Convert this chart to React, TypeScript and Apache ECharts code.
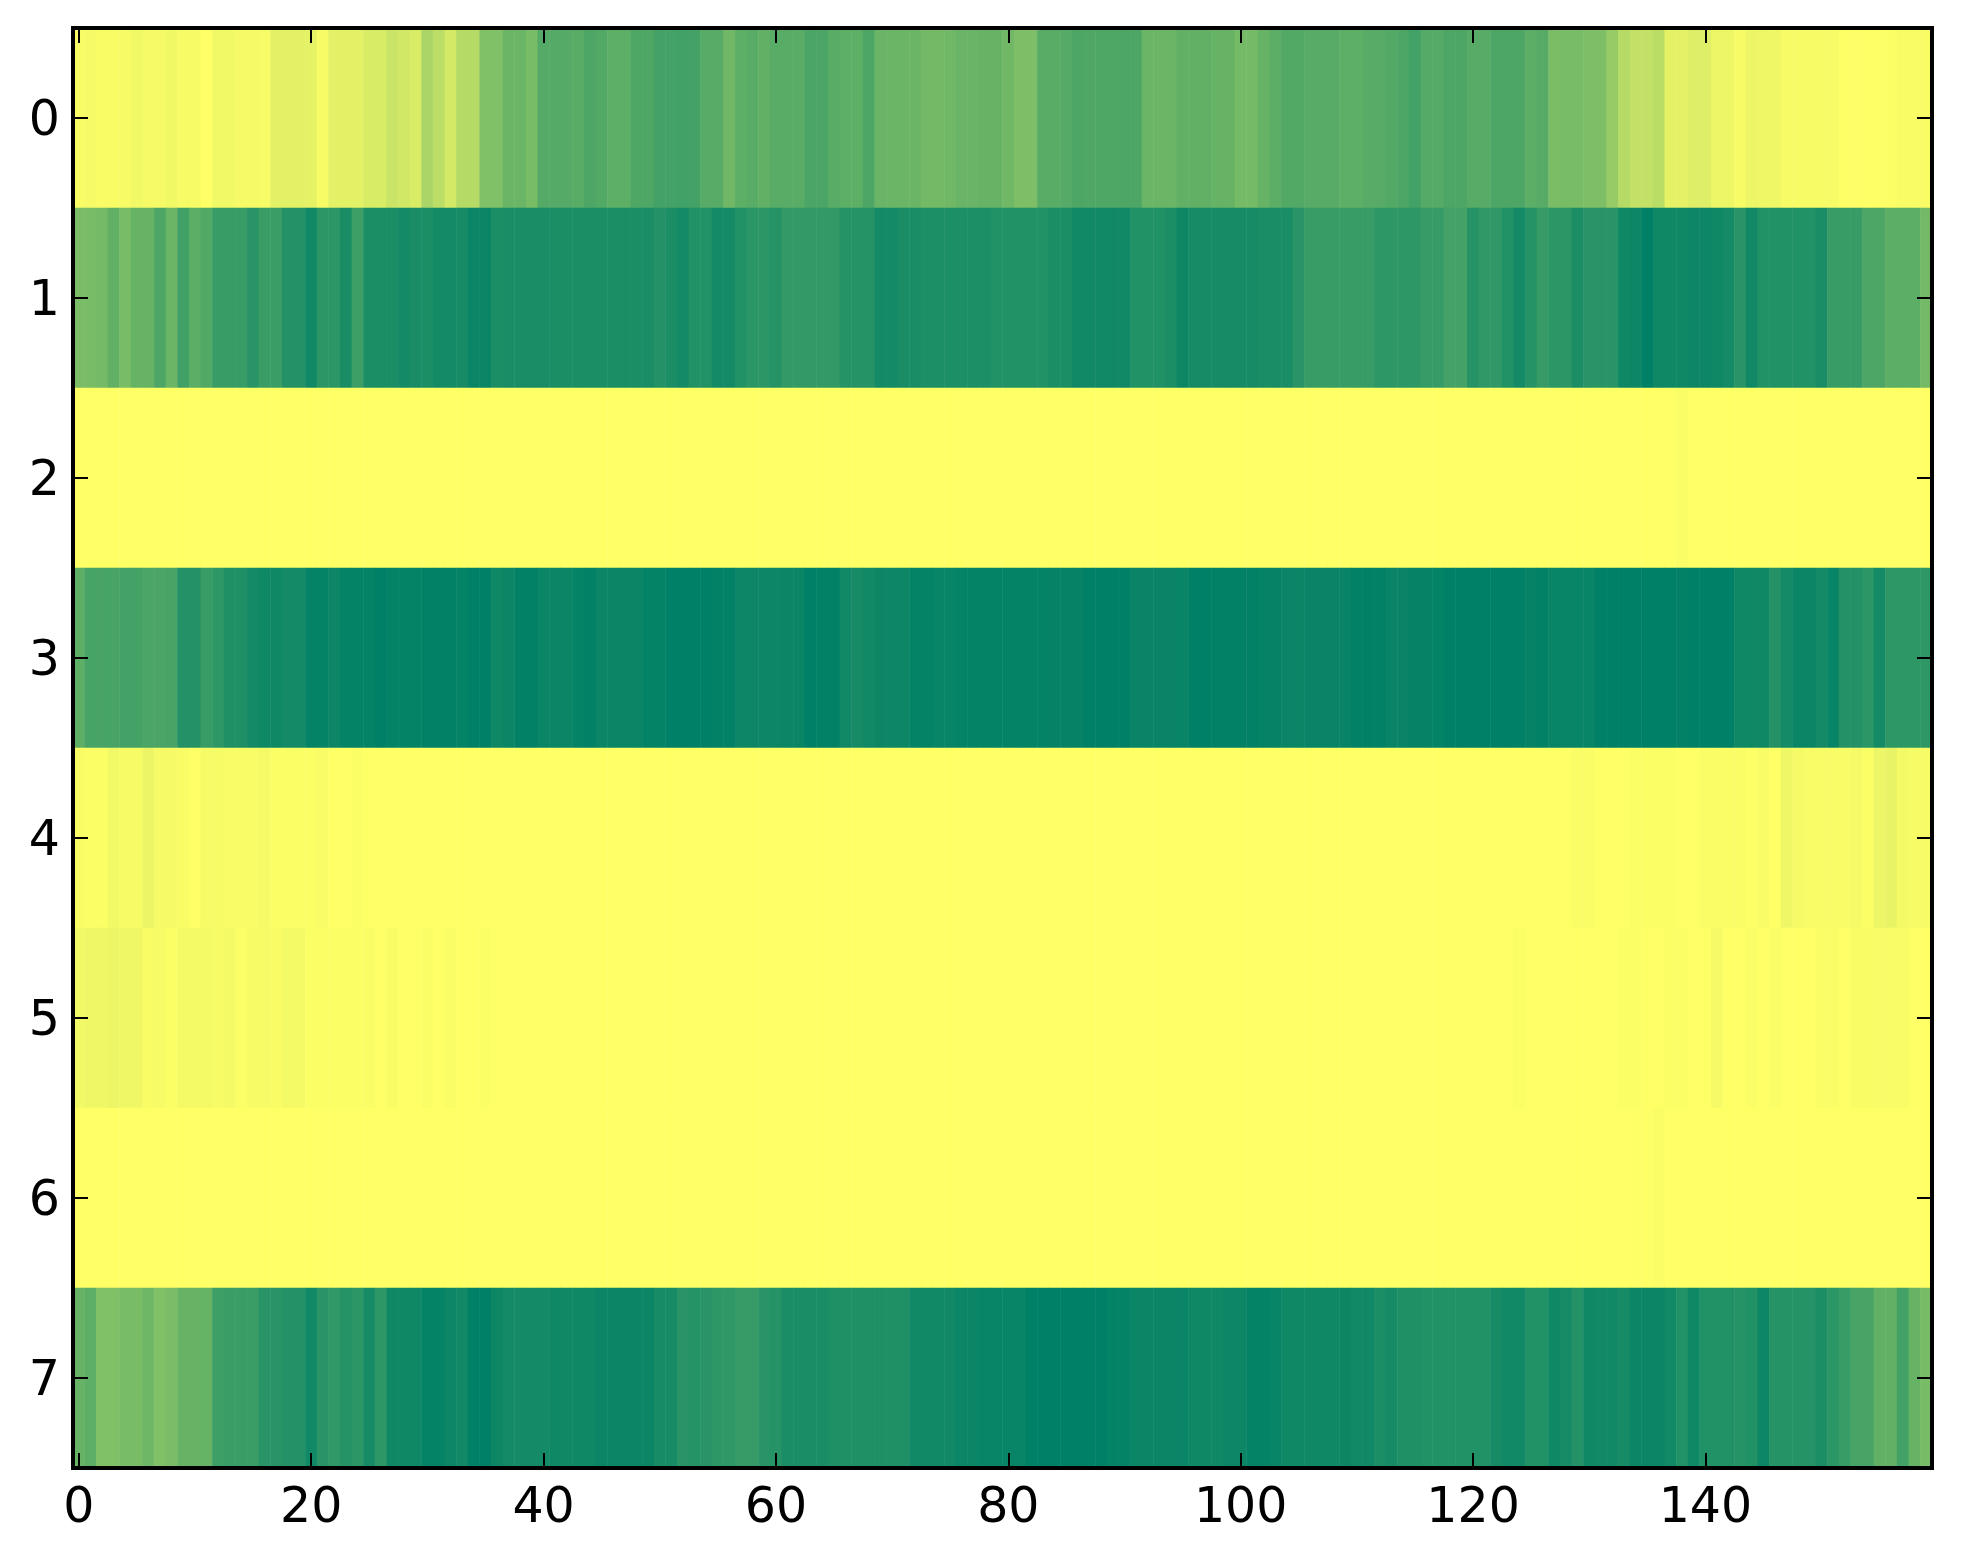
import React, { useEffect, useRef } from "react";
import * as echarts from "echarts";

const xLabels: string[] = Array.from({ length: 160 }, (_, i) => String(i));
const yLabels: string[] = ["0", "1", "2", "3", "4", "5", "6", "7"];

const row0 = [
  .02,.04,.02,.02,.035,.05,.04,.04,.055,.035,
  .035,0,.05,.05,.04,.04,.03,.11,.11,.11,
  .1,.035,.11,.11,.11,.15,.15,.21,.18,.15,
  .33,.26,.17,.29,.29,.5,.5,.58,.58,.53,
  .67,.67,.67,.65,.7,.68,.63,.63,.69,.69,
  .73,.73,.74,.73,.66,.66,.56,.63,.65,.62,
  .65,.65,.65,.71,.71,.65,.63,.63,.7,.59,
  .58,.58,.58,.55,.55,.56,.59,.59,.6,.6,
  .56,.51,.51,.65,.65,.67,.7,.69,.69,.69,
  .7,.7,.58,.58,.58,.62,.62,.62,.6,.6,
  .54,.54,.6,.64,.68,.68,.66,.66,.66,.63,
  .63,.66,.66,.68,.7,.74,.67,.67,.7,.7,
  .66,.66,.7,.7,.7,.64,.66,.52,.53,.53,
  .51,.51,.41,.29,.24,.24,.27,.1,.1,.13,
  .13,.07,.07,.03,.07,.06,.06,.03,.03,.03,
  .03,.03,.005,.005,.005,.005,.01,.02,.02,.02,
];
const row1 = [
  .52,.53,.54,.62,.53,.6,.6,.7,.58,.75,
  .64,.68,.78,.78,.78,.84,.77,.77,.86,.86,
  .93,.83,.83,.9,.76,.89,.89,.89,.92,.9,
  .89,.92,.92,.91,.96,.96,.89,.9,.9,.9,
  .9,.89,.89,.89,.89,.89,.89,.89,.89,.9,
  .86,.89,.92,.87,.87,.92,.92,.87,.83,.83,
  .85,.8,.8,.8,.8,.8,.85,.85,.85,.92,
  .92,.9,.9,.885,.885,.885,.885,.885,.885,.87,
  .87,.87,.87,.87,.89,.89,.93,.93,.93,.93,
  .93,.87,.87,.87,.89,.95,.91,.91,.91,.91,
  .91,.91,.9,.9,.9,.84,.78,.78,.78,.78,
  .78,.78,.82,.82,.82,.82,.79,.79,.73,.73,
  .85,.81,.81,.87,.92,.85,.79,.83,.83,.89,
  .84,.84,.84,.94,.95,1,.94,.94,.94,.95,
  .95,.94,.92,.84,.93,.87,.87,.87,.87,.87,
  .9,.78,.78,.78,.7,.7,.64,.64,.64,.55,
];
const row2 = [
  0,0,0,0,0,0,0,0,0,0, 0,0,0,0,0,0,0,0,0,0,
  0,0,0,0,0,0,0,0,0,0, 0,0,0,0,0,0,0,0,0,0,
  0,0,0,0,0,0,0,0,0,0, 0,0,0,0,0,0,0,0,0,0,
  0,0,0,0,0,0,0,0,0,0, 0,0,0,0,0,0,0,0,0,0,
  0,0,0,0,0,0,0,0,0,0, 0,0,0,0,0,0,0,0,0,0,
  0,0,0,0,0,0,0,0,0,0, 0,0,0,0,0,0,0,0,0,0,
  0,0,0,0,0,0,0,0,0,0, 0,0,0,0,0,0,0,0,.015,0,
  0,0,0,0,0,0,0,0,0,0, 0,0,0,0,0,0,0,0,0,0,
];
const row3 = [
  .63,.72,.72,.72,.73,.73,.71,.71,.72,.86,
  .86,.78,.82,.88,.88,.92,.94,.94,.92,.92,
  .98,.98,.95,.98,.98,.98,1,.98,.98,.98,
  .99,.99,.99,.98,1,1,.94,.96,.99,.99,
  .96,.96,.96,.98,.99,.96,.96,.96,.96,.98,
  .98,1,1,1,1,.99,.99,.95,.95,.95,
  .95,.96,.96,1,.99,.99,.93,.91,.93,.95,
  .95,.95,.98,.98,.97,.97,.98,.98,.98,.98,
  .98,.98,.98,.98,.975,.975,.975,1,1,1,
  1,.965,.965,.965,.965,.965,1,1,.99,.99,
  .99,.99,.975,.975,.96,.96,.965,.965,.965,.965,
  .99,.99,.99,.965,.965,.975,.975,.98,1,1,
  1,1,1,1,1,.975,.99,.97,.97,.97,
  .97,1,1,1,1,1,1,1,.99,1,
  1,1,1,.94,.94,.94,.86,.92,.96,.96,
  .92,.97,.86,.86,.83,.92,.82,.82,.82,.82,
];
const row4 = [
  .02,.01,.01,.05,.03,.03,.08,.04,.04,.02,
  0,.03,.03,.025,.025,.025,.04,.01,.01,.01,
  .01,.025,0,0,.01,0,0,0,0,0,
  0,0,0,0,0,0,0,0,0,0, 0,0,0,0,0,0,0,0,0,0,
  0,0,0,0,0,0,0,0,0,0, 0,0,0,0,0,0,0,0,0,0,
  0,0,0,0,0,0,0,0,0,0, 0,0,0,0,0,0,0,0,0,0,
  0,0,0,0,0,0,0,0,0,0, 0,0,0,0,0,0,0,0,0,0,
  0,0,0,0,0,0,0,0,0,0,
  0,0,0,0,0,0,0,0,0,.015,
  .015,0,0,0,.01,.01,.01,.01,0,0,
  .015,.015,.015,.015,0,.025,0,.06,.04,.025,
  .025,.025,.025,.04,.01,.07,.09,.045,.035,.035,
];
const row5 = [
  .05,.06,.06,.08,.06,.06,.02,.03,.01,.045,
  .045,.045,.03,.045,.01,.03,.035,.02,.045,.045,
  .01,.01,.01,.01,.01,.015,0,.02,0,0,
  .015,0,.015,0,0,.01,0,0,0,0,
  0,0,0,0,0,0,0,0,0,0, 0,0,0,0,0,0,0,0,0,0,
  0,0,0,0,0,0,0,0,0,0, 0,0,0,0,0,0,0,0,0,0,
  0,0,0,0,0,0,0,0,0,0, 0,0,0,0,0,0,0,0,0,0,
  0,0,0,0,0,0,0,0,0,0, 0,0,0,0,0,0,0,0,0,0,
  0,0,0,0,.01,0,0,0,0,0,
  0,0,0,.01,.01,0,0,.01,.01,0,
  0,.04,0,0,.015,0,.015,0,0,0,
  .015,.015,0,.02,.02,.025,.025,.025,.005,0,
];
const row6 = [
  0,0,0,0,0,0,0,0,0,0, 0,0,0,0,0,0,0,0,0,0,
  0,0,0,0,0,0,0,0,0,0, 0,0,0,0,0,0,0,0,0,0,
  0,0,0,0,0,0,0,0,0,0, 0,0,0,0,0,0,0,0,0,0,
  0,0,0,0,0,0,0,0,0,0, 0,0,0,0,0,0,0,0,0,0,
  0,0,0,0,0,0,0,0,0,0, 0,0,0,0,0,0,0,0,0,0,
  0,0,0,0,0,0,0,0,0,0, 0,0,0,0,0,0,0,0,0,0,
  0,0,0,0,0,0,0,0,0,0, 0,0,0,0,.005,.005,.015,0,0,0,
  0,0,0,0,0,0,0,0,0,0, 0,0,0,0,0,0,0,0,0,0,
];
const row7 = [
  .6,.63,.5,.5,.53,.53,.57,.5,.52,.6,
  .6,.6,.76,.77,.77,.77,.84,.84,.86,.86,
  .93,.84,.81,.85,.83,.91,.82,.94,.94,.94,
  .98,.98,.95,.93,1,1,.95,.92,.92,.92,
  .92,.94,.94,.94,.94,.96,.96,.96,.96,.96,
  .91,.91,.84,.85,.84,.82,.82,.79,.79,.84,
  .85,.9,.9,.9,.9,.88,.88,.88,.88,.88,
  .88,.88,.93,.93,.93,.93,.96,.96,.97,.97,
  .97,.97,1,1,1,1,1,1,1,.98,
  .98,.96,.96,.96,.96,.96,.94,.94,.94,.95,
  .95,.98,.98,.97,.94,.94,.94,.94,.94,.95,
  .93,.93,.89,.91,.88,.88,.87,.87,.87,.87,
  .87,.87,.91,.93,.93,.87,.87,.94,.91,.86,
  .94,.93,.93,.91,.96,.96,.96,.93,.87,.94,
  .87,.87,.87,.85,.87,.95,.85,.85,.85,.85,
  .89,.83,.78,.72,.72,.62,.62,.74,.6,.53,
];
const rows: number[][] = [row0, row1, row2, row3, row4, row5, row6, row7];

const colorLow = "#ffff66";
const colorHigh = "#008066";
const every20 = (i: number) => i % 20 === 0;

export default function App() {
  const ref = useRef<HTMLDivElement>(null);
  useEffect(() => {
    document.body.style.margin = "0";
    document.body.style.background = "#ffffff";
    const chart = echarts.init(ref.current!, undefined, { renderer: "svg" });
    const cells: [number, number, number][] = [];
    rows.forEach((row, y) => row.forEach((v, x) => cells.push([x, y, v])));
    const line = { show: true, onZero: false, lineStyle: { color: "#000", width: 4, cap: "square" } };
    const font = { fontFamily: "DejaVu Sans", fontSize: 49, color: "#000" };
    chart.setOption({
      animation: false,
      backgroundColor: "#ffffff",
      grid: { left: 73, top: 28, width: 1859, height: 1440, containLabel: false },
      visualMap: {
        show: false,
        type: "continuous",
        min: 0,
        max: 1,
        dimension: 2,
        inRange: { color: [colorLow, colorHigh] },
      },
      xAxis: [
        {
          type: "category",
          data: xLabels,
          position: "bottom",
          z: 10,
          axisLine: line,
          axisTick: { show: true, inside: true, length: 15, alignWithLabel: true, interval: every20, lineStyle: { color: "#000", width: 2 } },
          axisLabel: { ...font, interval: every20, margin: 13 },
          splitLine: { show: false },
        },
        {
          type: "category",
          data: xLabels,
          position: "top",
          z: 10,
          axisLine: line,
          axisTick: { show: true, inside: true, length: 15, alignWithLabel: true, interval: every20, lineStyle: { color: "#000", width: 2 } },
          axisLabel: { show: false },
          splitLine: { show: false },
        },
      ],
      yAxis: [
        {
          type: "category",
          data: yLabels,
          inverse: true,
          position: "left",
          z: 10,
          axisLine: line,
          axisTick: { show: true, inside: true, length: 15, alignWithLabel: true, lineStyle: { color: "#000", width: 2 } },
          axisLabel: { ...font, interval: 0, margin: 13, padding: [0, 0, 4, 0] },
          splitLine: { show: false },
        },
        {
          type: "category",
          data: yLabels,
          inverse: true,
          position: "right",
          z: 10,
          axisLine: line,
          axisTick: { show: true, inside: true, length: 15, alignWithLabel: true, lineStyle: { color: "#000", width: 2 } },
          axisLabel: { show: false },
          splitLine: { show: false },
        },
      ],
      series: [
        {
          type: "heatmap",
          xAxisIndex: 0,
          yAxisIndex: 0,
          data: cells,
          progressive: 0,
          itemStyle: { borderWidth: 0 },
          emphasis: { disabled: true },
        },
      ],
    });
    return () => chart.dispose();
  }, []);
  return <div ref={ref} style={{ position: "absolute", left: 0, top: 0, width: 1963, height: 1564 }} />;
}
